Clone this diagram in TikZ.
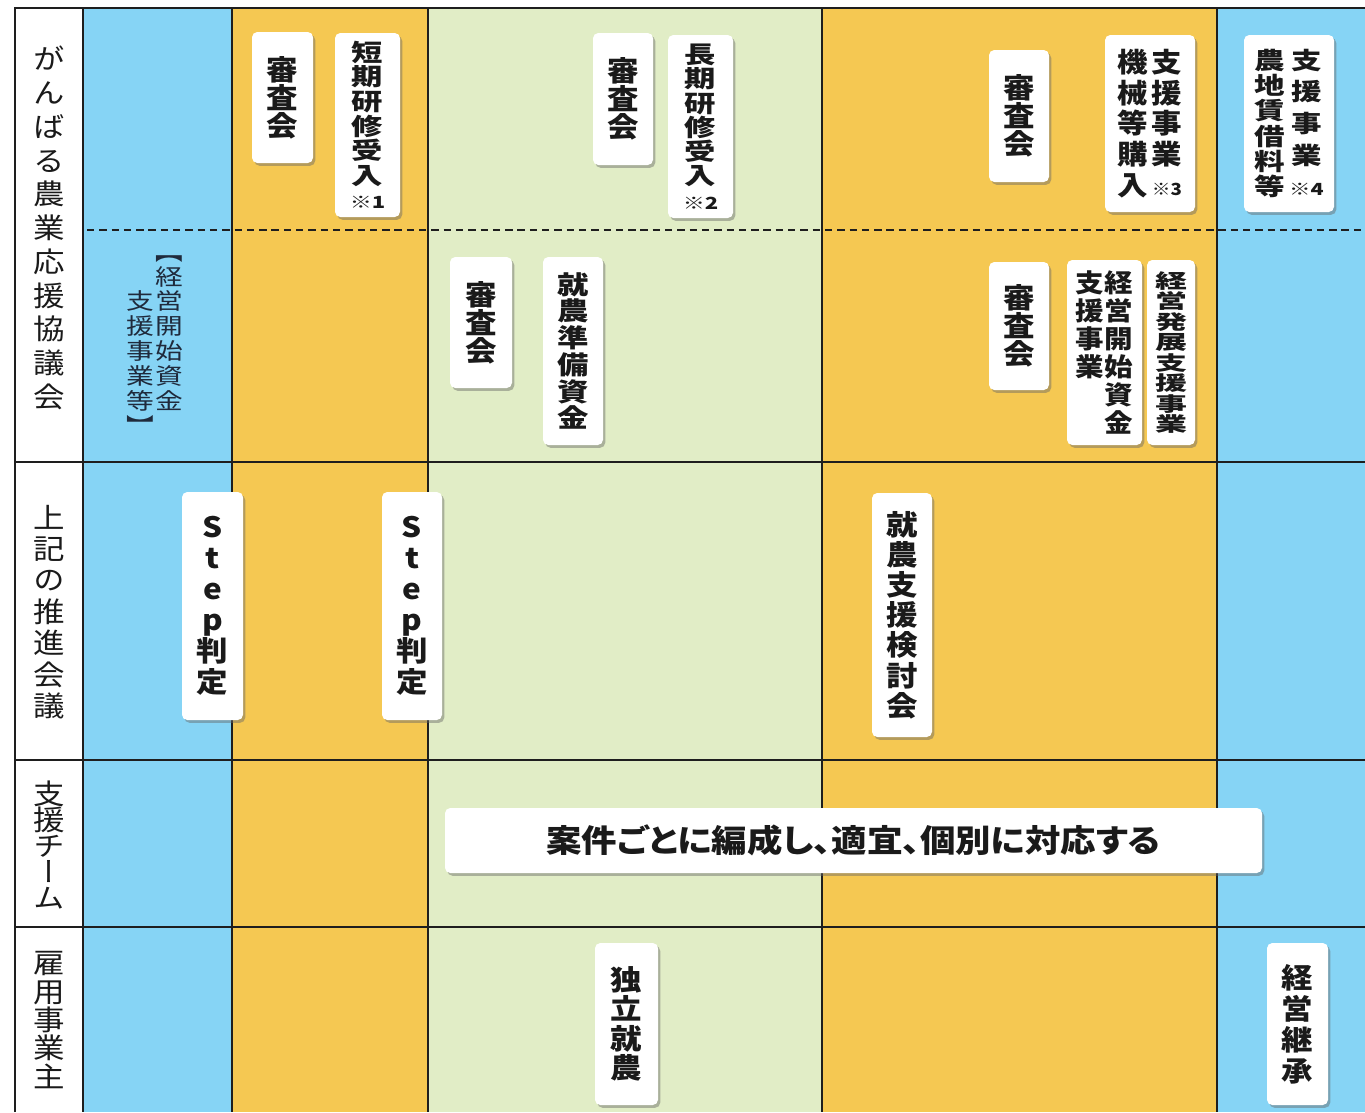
\documentclass[tikz,border=0pt]{standalone}
\usepackage{fontspec}
\usepackage{graphicx}
\setmainfont{Noto Sans CJK JP}[FakeStretch=1.12,RawFeature=+vert]
\newfontfamily\yokofont{Noto Sans CJK JP}[FakeStretch=1.12,RawFeature=+palt]
\usetikzlibrary{shadows}

\definecolor{skyblue}{HTML}{86D4F5}
\definecolor{farmorange}{HTML}{F5C852}
\definecolor{palegreen}{HTML}{E1EDC6}
\definecolor{gridline}{HTML}{1E1E1E}
\definecolor{inkgray}{HTML}{1A1A1A}
\definecolor{navyink}{HTML}{1F2A3C}

% font size with a fixed line pitch
\newcommand{\fsz}[2]{\fontsize{#1}{#2}\selectfont\lineskiplimit=-\maxdimen}
% one vertical column of characters, rows split by \cr
\newcommand{\tcol}[2][\baselineskip]{\vtop{\baselineskip=#1\halign{\hfil##\hfil\cr#2\crcr}}}
\newcommand{\kome}[1]{{\fontsize{9.5}{10}\selectfont ※#1}}

\tikzset{
  card/.style={fill=white, rounded corners=3pt, inner sep=0pt, align=center, text=inkgray,
    drop shadow={shadow xshift=1.3pt, shadow yshift=-1.6pt, fill=black!60, opacity=0.45}},
  wh/.style 2 args={minimum width=#1*0.02cm, minimum height=#2*0.02cm},
  cardfont/.style 2 args={font=\bfseries\fsz{#1}{#2}},
  rowlabel/.style={align=center, inner sep=0pt, text=inkgray},
  grid/.style={draw=gridline, line width=1.1pt, line join=miter},
}

\begin{document}
\begin{tikzpicture}[x=0.02cm, y=-0.02cm]
    \useasboundingbox (0,0) rectangle (1365,1112);

    % Column bands
    \fill[white] (15,8) rectangle (83,1112);
    \fill[skyblue] (83,8) rectangle (232,1112);
    \fill[farmorange] (232,8) rectangle (428,1112);
    \fill[palegreen] (428,8) rectangle (822,1112);
    \fill[farmorange] (822,8) rectangle (1217,1112);
    \fill[skyblue] (1217,8) rectangle (1365,1112);

    % Table rules
    \draw[grid] (15,1112) -- (15,8) -- (1365,8);
    \foreach \yy in {462,760,927}
        \draw[grid] (15,\yy) -- (1365,\yy);
    \foreach \xx in {83,232,428,822,1217}
        \draw[grid] (\xx,8) -- (\xx,1112);
    \draw[draw=gridline, line width=1.4pt, dash pattern=on 4.2pt off 2.8pt] (87,230) -- (1365,230);

    % Row labels
    \node[rowlabel, font={\fsz{16}{19.2}}] (kyogikai) at (49,228) {が\\ん\\ば\\る\\農\\業\\応\\援\\協\\議\\会};
    \node[rowlabel, font={\fsz{16}{17.9}}] (suishin) at (49,612) {上\\記\\の\\推\\進\\会\\議};
    \node[rowlabel, font={\fsz{16}{14.7}}] (team) at (49,845) {支\\援\\チ\\ー\\ム};
    \node[rowlabel, font={\fsz{16}{16.2}}] (koyou) at (49,1020) {雇\\用\\事\\業\\主};

    % Note in the blue column
    \node[rowlabel, text=navyink, font={\fsz{12.8}{14.2}}] (kaishiNote) at (155,345)
        {\scalebox{1.1}[1]{\tcol{\cr\cr 支\cr 援\cr 事\cr 業\cr 等\cr 】}\hspace{1pt}\tcol{【\cr 経\cr 営\cr 開\cr 始\cr 資\cr 金}}};

    % Upper half of the council row
    \node[card, wh={61}{131}, cardfont={16}{16}] (shinsaA) at (282.5,97.5) {審\\査\\会};
    \node[card, wh={65}{184}, cardfont={13.5}{14}] (tanki) at (367.5,125)
        {\scalebox{1.18}[1]{\tcol{短\cr 期\cr 研\cr 修\cr 受\cr 入\cr \kome{1}}}};
    \node[card, wh={60}{132}, cardfont={16}{16}] (shinsaB) at (623,99) {審\\査\\会};
    \node[card, wh={65}{183}, cardfont={13.5}{13.8}] (choki) at (700.5,126.5)
        {\scalebox{1.18}[1]{\tcol{長\cr 期\cr 研\cr 修\cr 受\cr 入\cr \kome{2}}}};
    \node[card, wh={60}{132}, cardfont={16}{16}] (shinsaC) at (1019,116) {審\\査\\会};
    \node[card, wh={90}{177}, cardfont={15.5}{17.4}] (kikai) at (1150,123.5)
        {\tcol{機\cr 械\cr 等\cr 購\cr 入}\hspace{2pt}\tcol{支\cr 援\cr 事\cr 業\cr \kome{3}}};
    \node[card, wh={90}{177}, cardfont={13.5}{14.4}] (nochi) at (1289,123.5)
        {\scalebox{1.15}[1]{\tcol{農\cr 地\cr 賃\cr 借\cr 料\cr 等}\hspace{2pt}\tcol[18pt]{支\cr 援\cr 事\cr 業\cr \kome{4}}}};

    % Lower half of the council row
    \node[card, wh={62}{131}, cardfont={16}{16}] (shinsaD) at (481,322.5) {審\\査\\会};
    \node[card, wh={60}{188}, cardfont={14.5}{15.2}] (junbi) at (573,351)
        {\scalebox{1.1}[1]{\tcol{就\cr 農\cr 準\cr 備\cr 資\cr 金}}};
    \node[card, wh={60}{128}, cardfont={16}{16}] (shinsaE) at (1019,326) {審\\査\\会};
    \node[card, wh={75}{185}, cardfont={14.5}{15.9}] (kaishi) at (1104.5,352.5)
        {\tcol{支\cr 援\cr 事\cr 業}\hspace{0.5pt}\tcol{経\cr 営\cr 開\cr 始\cr 資\cr 金}};
    \node[card, wh={48}{185}, cardfont={11.2}{11.7}] (hatten) at (1171,352.5)
        {\scalebox{1.45}[1]{\tcol{経\cr 営\cr 発\cr 展\cr 支\cr 援\cr 事\cr 業}}};

    % Promotion meeting row
    \node[card, wh={61}{228}, cardfont={16}{17.6}] (stepA) at (212.5,606) {S\\t\\e\\p\\判\\定};
    \node[card, wh={60}{228}, cardfont={16}{17.6}] (stepB) at (412,606) {S\\t\\e\\p\\判\\定};
    \node[card, wh={60}{244}, cardfont={16}{17.2}] (kentou) at (902,615) {就\\農\\支\\援\\検\\討\\会};

    % Support team row
    \node[card, wh={817}{65}, font={\yokofont\bfseries\fsz{18}{20}}] (hensei) at (853.5,840.5) {案件ごとに編成し、適宜、個別に対応する};

    % Employer row
    \node[card, wh={63}{162}, cardfont={16}{16.8}] (dokuritsu) at (626.5,1024) {独\\立\\就\\農};
    \node[card, wh={61}{162}, cardfont={16}{17.6}] (keisho) at (1297.5,1024) {経\\営\\継\\承};
\end{tikzpicture}
\end{document}
